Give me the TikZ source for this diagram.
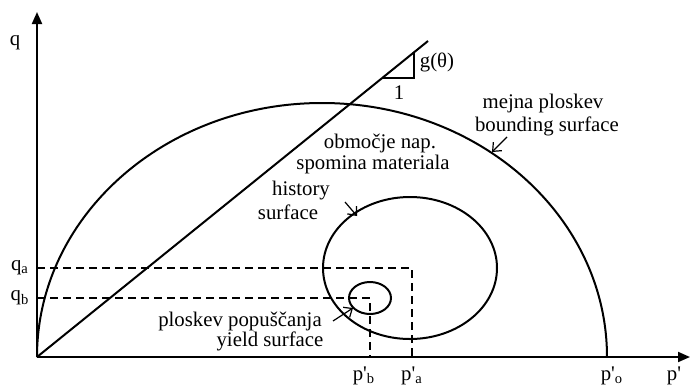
\documentclass[tikz,border=0pt]{standalone}
\usepackage{fontspec}
\setmainfont{Liberation Serif}
\usetikzlibrary{arrows.meta,shapes.geometric}
\begin{document}
\begin{tikzpicture}[x=0.5pt,y=-0.5pt, line width=1pt,
  lbl/.style={font=\fontsize{10.4}{12}\selectfont, inner sep=0pt},
  dsh/.style={dash pattern=on 4pt off 2.5pt, line width=0.9pt},
  callout/.style={-{Straight Barb[length=3.5pt,width=6pt]}, line width=0.6pt},
  axtip/.style={-{Triangle[length=6pt,width=5pt]}}]
\useasboundingbox (0,0) rectangle (691,386);
% axes
\coordinate (O) at (37,357);
\coordinate (ytip) at (37,12);
\coordinate (xtip) at (690,357);
\draw[axtip] (O) -- (ytip);
\draw[axtip] (O) -- (xtip);
% bounding surface
\draw (O) arc[start angle=180,end angle=0,x radius=142.5pt,y radius=127pt] coordinate (po);
% critical state line with slope triangle
\coordinate (lt) at (428,41);
\draw (O) -- (lt);
\coordinate (t1) at (382,78.2);
\coordinate (t2) at (414,78.2);
\coordinate (t3) at (414,52.3);
\draw[line width=0.8pt] (t1) -- (t2) -- (t3);
% history surface and yield surface
\node[draw, ellipse, minimum width=87pt, minimum height=71pt, inner sep=0pt] (hist) at (410,268) {};
\node[draw, ellipse, minimum width=21pt, minimum height=16pt, inner sep=0pt] (yield) at (370,298) {};
% dashed guides
\coordinate (qa) at (37,268);
\coordinate (qaa) at (412,268);
\coordinate (pa) at (412,357);
\coordinate (qb) at (37,298);
\coordinate (qbb) at (370,298);
\coordinate (pb) at (370,357);
\draw[dsh] (qa) -- (qaa) -- (pa);
\draw[dsh] (qb) -- (qbb) -- (pb);
% axis labels
\node[lbl] (lq) at (15,43) {q};
\node[lbl] (lqa) at (20,268) {q\textsubscript{a}};
\node[lbl] (lqb) at (20,298) {q\textsubscript{b}};
\node[lbl, anchor=base] (lpb) at (364,380) {p\textquotesingle\textsubscript{b}};
\node[lbl, anchor=base] (lpa) at (412,380) {p\textquotesingle\textsubscript{a}};
\node[lbl, anchor=base] (lpo) at (612,380) {p\textquotesingle\textsubscript{o}};
\node[lbl, anchor=base] (lp) at (674,380) {p\textquotesingle};
% slope labels
\node[lbl] (lg) at (437,62) {g(θ)};
\node[lbl] (l1) at (399,93) {1};
% text labels
\node[lbl] (b1) at (543,103) {mejna ploskev};
\node[lbl] (b2) at (547,126) {bounding surface};
\node[lbl] (m1) at (380,143) {območje nap.};
\node[lbl] (m2) at (373,164) {spomina materiala};
\node[lbl] (h1) at (301,191) {history};
\node[lbl] (h2) at (288,212) {surface};
\node[lbl] (y1) at (240,321) {ploskev popuščanja};
\node[lbl] (y2) at (270,341) {yield surface};
% callout arrows
\coordinate (ba) at (507,137);
\coordinate (bb) at (492,152);
\coordinate (ha) at (345,202);
\coordinate (hb) at (357,216);
\coordinate (ya) at (333,321);
\coordinate (yb) at (353,308);
\draw[callout] (ba) -- (bb);
\draw[callout] (ha) -- (hb);
\draw[callout] (ya) -- (yb);
\end{tikzpicture}
\end{document}
